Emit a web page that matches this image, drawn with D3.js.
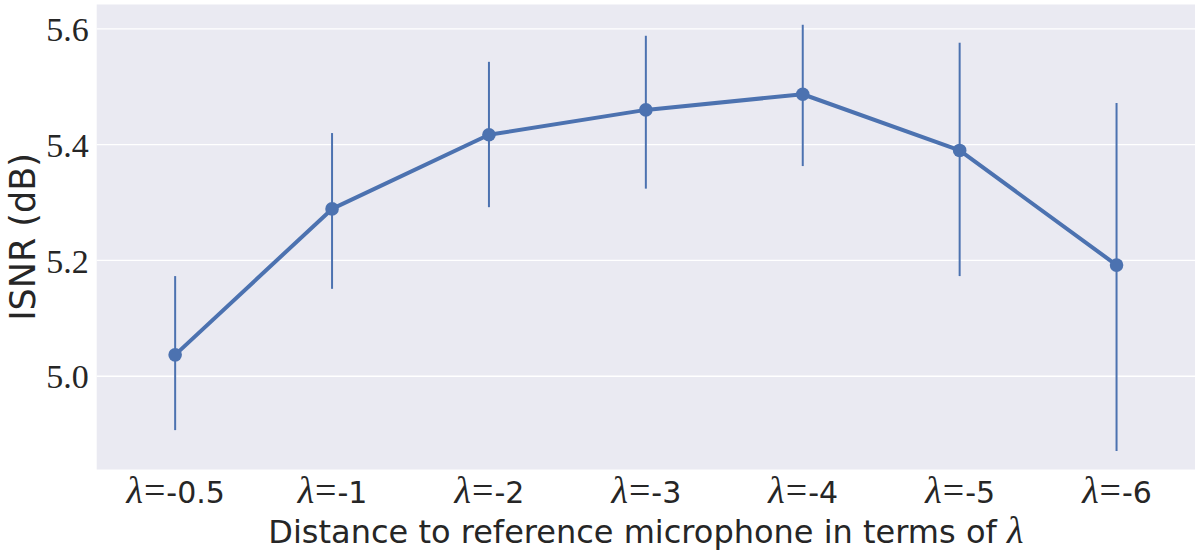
<!DOCTYPE html>
<html><head><meta charset="utf-8">
<script src="https://cdn.jsdelivr.net/npm/d3@7"></script>
<style>html,body{margin:0;padding:0;background:#fff;}</style>
</head><body>
<svg id="c" width="1200" height="554"></svg>
<script>
const categories = ["-0.5", "-1", "-2", "-3", "-4", "-5", "-6"];
const isnrMean  = [5.037, 5.289, 5.417, 5.460, 5.487, 5.390, 5.192];
const isnrLow   = [4.907, 5.151, 5.292, 5.324, 5.363, 5.173, 4.871];
const isnrHigh  = [5.173, 5.420, 5.543, 5.588, 5.607, 5.576, 5.472];
const yTicks    = [5.0, 5.2, 5.4, 5.6];
const yDomain   = [4.839, 5.642];

const svg = d3.select("#c");
const m = {left: 96.7, right: 1195, top: 4.5, bottom: 469.5};
const blue = "#4C72B0";
const sans = "'DejaVu Sans', sans-serif";
const serif = "'Liberation Serif', serif";

const x = d3.scalePoint().domain(categories).range([m.left, m.right]).padding(0.5);
const y = d3.scaleLinear().domain(yDomain).range([m.bottom, m.top]);

svg.append("rect").attr("x", m.left).attr("y", m.top)
  .attr("width", m.right - m.left).attr("height", m.bottom - m.top).attr("fill", "#EAEAF2");

// grid
svg.append("g").selectAll("line").data(yTicks).join("line")
  .attr("x1", m.left).attr("x2", m.right)
  .attr("y1", d => y(d)).attr("y2", d => y(d))
  .attr("stroke", "#fff").attr("stroke-width", 1.3);

// y axis
const yAxis = d3.axisLeft(y).tickValues(yTicks).tickSize(0).tickPadding(8).tickFormat(d3.format(".1f"));
const ga = svg.append("g").attr("transform", `translate(${m.left},0)`).call(yAxis);
ga.select(".domain").remove();
ga.selectAll("text").attr("font-family", serif).attr("font-size", 34)
  .attr("fill", "#262626").attr("dy", "0.34em");

// x axis
const xAxis = d3.axisBottom(x).tickSize(0).tickPadding(0).tickFormat("");
const gx = svg.append("g").attr("transform", `translate(0,${m.bottom})`).call(xAxis);
gx.select(".domain").remove();
gx.selectAll(".tick").each(function(d) {
  const t = d3.select(this).append("text").attr("y", 33.5).attr("text-anchor", "middle")
    .attr("fill", "#262626");
  t.append("tspan").attr("font-family", serif).attr("font-style", "italic").attr("font-size", 38).text("λ");
  t.append("tspan").attr("font-family", serif).attr("font-size", 38).attr("dx", 1).text("=");
  t.append("tspan").attr("font-family", sans).attr("font-size", 30).attr("dx", 1).text(d);
});

// error bars
svg.append("g").selectAll("line").data(categories).join("line")
  .attr("x1", d => x(d)).attr("x2", d => x(d))
  .attr("y1", (d, i) => y(isnrLow[i])).attr("y2", (d, i) => y(isnrHigh[i]))
  .attr("stroke", blue).attr("stroke-width", 2);

// line
const line = d3.line().x((d, i) => x(categories[i])).y(d => y(d));
svg.append("path").datum(isnrMean).attr("d", line).attr("fill", "none")
  .attr("stroke", blue).attr("stroke-width", 4).attr("stroke-linejoin", "round");

svg.append("g").selectAll("circle").data(isnrMean).join("circle")
  .attr("cx", (d, i) => x(categories[i])).attr("cy", d => y(d)).attr("r", 6.8).attr("fill", blue);

// axis labels
const xl = svg.append("text").attr("x", (m.left + m.right) / 2).attr("y", 542.5)
  .attr("text-anchor", "middle").attr("fill", "#262626");
xl.append("tspan").attr("font-family", sans).attr("font-size", 32)
  .text("Distance to reference microphone in terms of ");
xl.append("tspan").attr("font-family", serif).attr("font-style", "italic").attr("font-size", 38).text("λ");

svg.append("text").attr("transform", `translate(35,${(m.top + m.bottom) / 2}) rotate(-90)`)
  .attr("text-anchor", "middle").attr("fill", "#262626")
  .attr("font-family", sans).attr("font-size", 35).text("ISNR (dB)");
</script>
</body></html>
